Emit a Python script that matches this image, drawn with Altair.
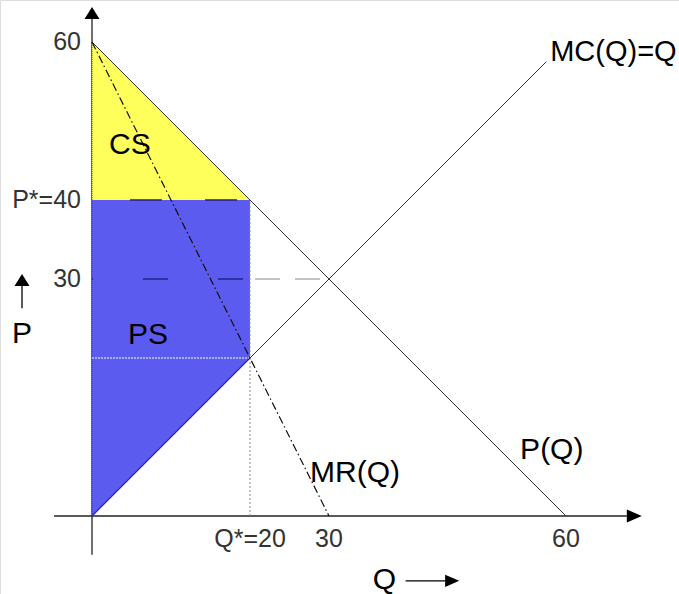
import altair as alt
import pandas as pd

# Monopoly model: inverse demand P(Q) = 60 - Q, MR(Q) = 60 - 2Q, MC(Q) = Q
demand_q = [0, 60]
demand_p = [60, 0]
mr_q = [0, 30]
mr_p = [60, 0]
mc_q = [0, 57.5]
mc_p = [0, 57.5]
q_star = 20        # monopoly quantity (MR = MC)
p_star = 40        # monopoly price on the demand curve
mc_at_q_star = 20  # marginal cost at Q*
p_comp = 30        # price where MC meets demand
q_comp = 30

q_ticks = [20, 30, 60]
q_tick_labels = ["Q*=20", "30", "60"]
p_ticks = [60, 40, 30]
p_tick_labels = ["60", "P*=40", "30"]

# ---- scales: same pixel length per unit on both axes ----
UNIT = 7.9
W, H = 679, 594
X0, Y0 = 92, 516
xs = alt.Scale(domain=[-X0 / UNIT, (W - X0) / UNIT], nice=False, zero=False)
ys = alt.Scale(domain=[(Y0 - H) / UNIT, Y0 / UNIT], nice=False, zero=False)

LINE = "#333333"
YELLOW = "#FFFF5C"
BLUE = "#5B5BEF"
FONT = "Liberation Sans"

# axis extents (in model units)
x_axis_from, x_axis_to = -4.8, 67.7
y_axis_from, y_axis_to = -4.9, 62.9


def seg(q1, p1, q2, p2, **style):
    df = pd.DataFrame({"q1": [q1], "p1": [p1], "q2": [q2], "p2": [p2]})
    return alt.Chart(df).mark_rule(**style).encode(
        x=alt.X("q1:Q", scale=xs, axis=None),
        y=alt.Y("p1:Q", scale=ys, axis=None),
        x2="q2:Q",
        y2="p2:Q",
    )


def area(qs, upper, lower, color):
    df = pd.DataFrame({"q": qs, "hi": upper, "lo": lower})
    return alt.Chart(df).mark_area(color=color, opacity=1, interpolate="linear").encode(
        x=alt.X("q:Q", scale=xs, axis=None),
        y=alt.Y("hi:Q", scale=ys, axis=None),
        y2="lo:Q",
    )


def arrowhead(q, p, shape, size=225):
    df = pd.DataFrame({"q": [q], "p": [p]})
    return alt.Chart(df).mark_point(
        shape=shape, filled=True, color="black", opacity=1, size=size, strokeWidth=0
    ).encode(x=alt.X("q:Q", scale=xs, axis=None), y=alt.Y("p:Q", scale=ys, axis=None))


def text(df, **style):
    return alt.Chart(df).mark_text(font=FONT, **style).encode(
        x=alt.X("q:Q", scale=xs, axis=None),
        y=alt.Y("p:Q", scale=ys, axis=None),
        text="t:N",
    )


UP = "M-1,0L1,0L0,-1.6Z"
RIGHT = "M0,-0.87L0,0.87L2,0Z"

layers = []

# coordinate axes
layers.append(seg(x_axis_from, 0, x_axis_to, 0, color="#222222", strokeWidth=1.3))
layers.append(seg(0, y_axis_from, 0, y_axis_to, color="#222222", strokeWidth=1.3))

# consumer surplus (yellow) and producer surplus (blue)
layers.append(area([0, q_star], [demand_p[0], p_star], [p_star, p_star], YELLOW))
layers.append(area([0, q_star], [p_star, p_star], [0, mc_at_q_star], BLUE))

# axis seen through the shading
layers.append(seg(0, 0, 0, demand_p[0], color="#444444", strokeWidth=1, strokeDash=[1, 1]))

# guide lines
layers.append(seg(0, mc_at_q_star, q_star, mc_at_q_star, color="white", strokeWidth=1, strokeDash=[2, 1]))
layers.append(seg(q_star, 0, q_star, p_star, color="#8a8a8a", strokeWidth=1, strokeDash=[2, 2]))
layers.append(seg(0, p_star, q_star, p_star, color="#23238f", strokeWidth=1.5,
                  strokeDash=[32, 43], strokeDashOffset=37))
layers.append(seg(0, p_comp, q_star, p_comp, color="#23238f", strokeWidth=1.5,
                  strokeDash=[25, 50], strokeDashOffset=24))
layers.append(seg(q_star, p_comp, q_comp, p_comp, color="#8a8a8a", strokeWidth=1,
                  strokeDash=[25, 15], strokeDashOffset=35))

# curves
layers.append(seg(mc_q[0], mc_p[0], q_star, mc_at_q_star, color="#2626c4", strokeWidth=1.3))
layers.append(seg(q_star, mc_at_q_star, mc_q[1], mc_p[1], color=LINE, strokeWidth=1))
layers.append(seg(demand_q[0], demand_p[0], demand_q[1], demand_p[1], color=LINE, strokeWidth=1))
layers.append(seg(mr_q[0], mr_p[0], mr_q[1], mr_p[1], color="#111111", strokeWidth=1.2,
                  strokeDash=[8, 3, 1.5, 3]))

# arrowheads on the axes
layers.append(arrowhead(0, y_axis_to, UP))
layers.append(arrowhead(x_axis_to, 0, RIGHT))

# "P ↑" and "Q →" axis names with their arrows
layers.append(seg(-8.86, 26.3, -8.86, 29.1, color="black", strokeWidth=1.3))
layers.append(arrowhead(-8.86, 29.1, UP))
layers.append(seg(39.7, -8.2, 44.7, -8.2, color="black", strokeWidth=1.3))
layers.append(arrowhead(44.7, -8.2, RIGHT, size=200))

# tick labels
q_lab = pd.DataFrame({"q": q_ticks, "p": [0] * len(q_ticks), "t": q_tick_labels})
p_lab = pd.DataFrame({"q": [0] * len(p_ticks), "p": p_ticks, "t": p_tick_labels})
layers.append(text(q_lab, fontSize=25, color="#333333", align="center", baseline="middle", dy=23))
layers.append(text(p_lab, fontSize=25, color="#333333", align="right", baseline="middle", dx=-11))

# curve and area names
names = pd.DataFrame({
    "q": [58.0, 58.2, 33.3, 4.8, 7.1],
    "p": [58.7, 8.3, 5.4, 47.0, 22.9],
    "t": ["MC(Q)=Q", "P(Q)", "MR(Q)", "CS", "PS"],
})
layers.append(text(names.iloc[:1], fontSize=29, color="black", align="left", baseline="middle"))
layers.append(text(names.iloc[1:], fontSize=30, color="black", align="center", baseline="middle"))

axis_names = pd.DataFrame({"q": [-8.86, 37.0], "p": [23.0, -8.1], "t": ["P", "Q"]})
layers.append(text(axis_names, fontSize=30, color="black", align="center", baseline="middle"))

chart = alt.layer(*layers).properties(
    width=W, height=H, autosize=alt.AutoSizeParams(type="none"), padding=0
).configure_view(stroke=None).configure(background="white")

chart.save("out.html", embed_options={"renderer": "svg", "actions": False})
